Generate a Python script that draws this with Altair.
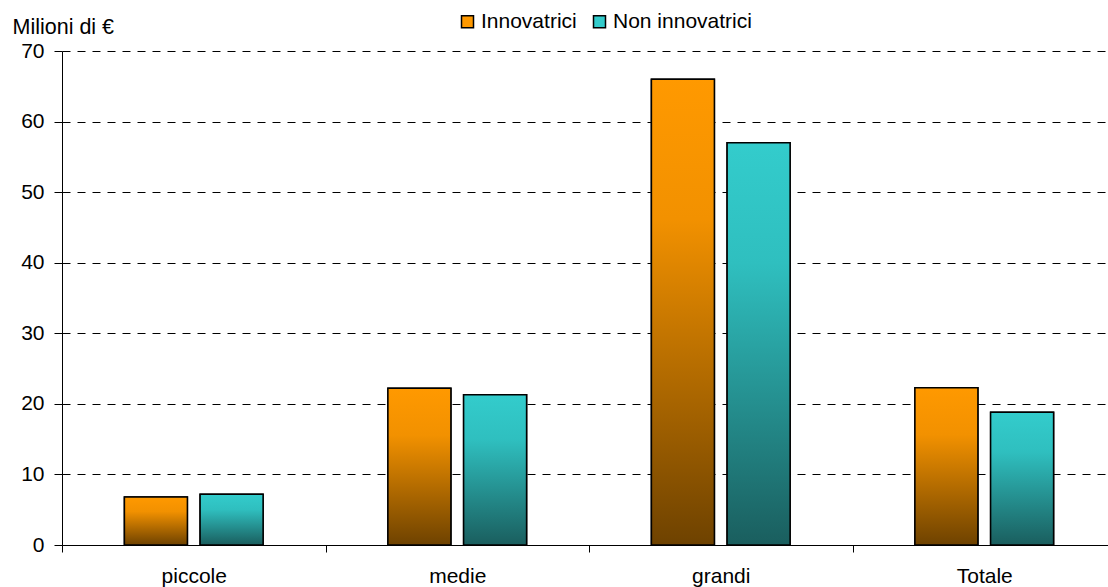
import altair as alt
import pandas as pd

categorie = ["piccole", "medie", "grandi", "Totale"]
serie = ["Innovatrici", "Non innovatrici"]
innovatrici = [6.8, 22.2, 66.0, 22.3]
non_innovatrici = [7.2, 21.3, 57.0, 18.8]
y_ticks = [0, 10, 20, 30, 40, 50, 60, 70]
colori = ["#FF9900", "#33CCCC"]

rows = []
for c, a, b in zip(categorie, innovatrici, non_innovatrici):
    rows.append({"Classe": c, "Serie": serie[0], "Valore": a})
    rows.append({"Classe": c, "Serie": serie[1], "Valore": b})
df = pd.DataFrame(rows)

FONT = "Liberation Sans"

grad_orange = {
    "gradient": "linear", "x1": 0, "y1": 0, "x2": 0, "y2": 1,
    "stops": [
        {"offset": 0, "color": "#FF9900"},
        {"offset": 0.3, "color": "#F29100"},
        {"offset": 1, "color": "#6E4200"},
    ],
}
grad_teal = {
    "gradient": "linear", "x1": 0, "y1": 0, "x2": 0, "y2": 1,
    "stops": [
        {"offset": 0, "color": "#33CCCC"},
        {"offset": 0.3, "color": "#2FBFBF"},
        {"offset": 1, "color": "#1A5E5E"},
    ],
}

x_enc = alt.X(
    "Classe:N",
    sort=categorie,
    scale=alt.Scale(range=[0, 1054], paddingInner=0, paddingOuter=0),
    axis=alt.Axis(
        title=None, labelAngle=0, tickBand="extent", domainColor="black",
        tickColor="black", tickSize=7, labelPadding=13, labelFontSize=21,
        labelFont=FONT, labelColor="black", grid=False,
    ),
)
xo_enc = alt.XOffset(
    "Serie:N",
    scale=alt.Scale(domain=serie, paddingInner=0.168, paddingOuter=0.8245),
)
y_enc = alt.Y(
    "Valore:Q",
    scale=alt.Scale(domain=[0, 70], nice=False),
    axis=alt.Axis(
        values=y_ticks, title="Milioni di €", titleAngle=0, titleX=-50,
        titleY=-18, titleAlign="left", titleBaseline="alphabetic",
        titleFontSize=21.5, titleFontWeight="normal", titleFont=FONT,
        titleColor="black", grid=True, gridDash=[8, 7], gridColor="black",
        gridWidth=1, domainColor="black", tickColor="black", tickSize=8,
        labelPadding=10, labelFontSize=21, labelFont=FONT, labelColor="black",
    ),
)

base = alt.Chart(df).encode(x=x_enc, xOffset=xo_enc, y=y_enc)

legend_layer = base.mark_bar(stroke="black", strokeWidth=1.5).encode(
    color=alt.Color(
        "Serie:N",
        scale=alt.Scale(domain=serie, range=colori),
        legend=alt.Legend(
            title=None, orient="none", legendX=395, legendY=-40,
            direction="horizontal", symbolType="square", symbolSize=144,
            symbolStrokeColor="black", symbolStrokeWidth=1.5,
            labelFontSize=21, labelFont=FONT, labelColor="black",
            labelOffset=3, columnPadding=12, padding=0, symbolOpacity=1,
        ),
    )
)
layer_a = base.mark_bar(fill=grad_orange, stroke="black", strokeWidth=1.5).transform_filter(
    alt.datum.Serie == serie[0]
)
layer_b = base.mark_bar(fill=grad_teal, stroke="black", strokeWidth=1.5).transform_filter(
    alt.datum.Serie == serie[1]
)

chart = (
    alt.layer(legend_layer, layer_a, layer_b)
    .properties(
        width=1046, height=494,
        autosize=alt.AutoSizeParams(type="none"),
        padding={"left": 62, "top": 51, "right": 0, "bottom": 42},
        background="white",
    )
    .configure_view(stroke=None)
)

chart.save("out.html", embed_options={"renderer": "svg", "actions": False})
